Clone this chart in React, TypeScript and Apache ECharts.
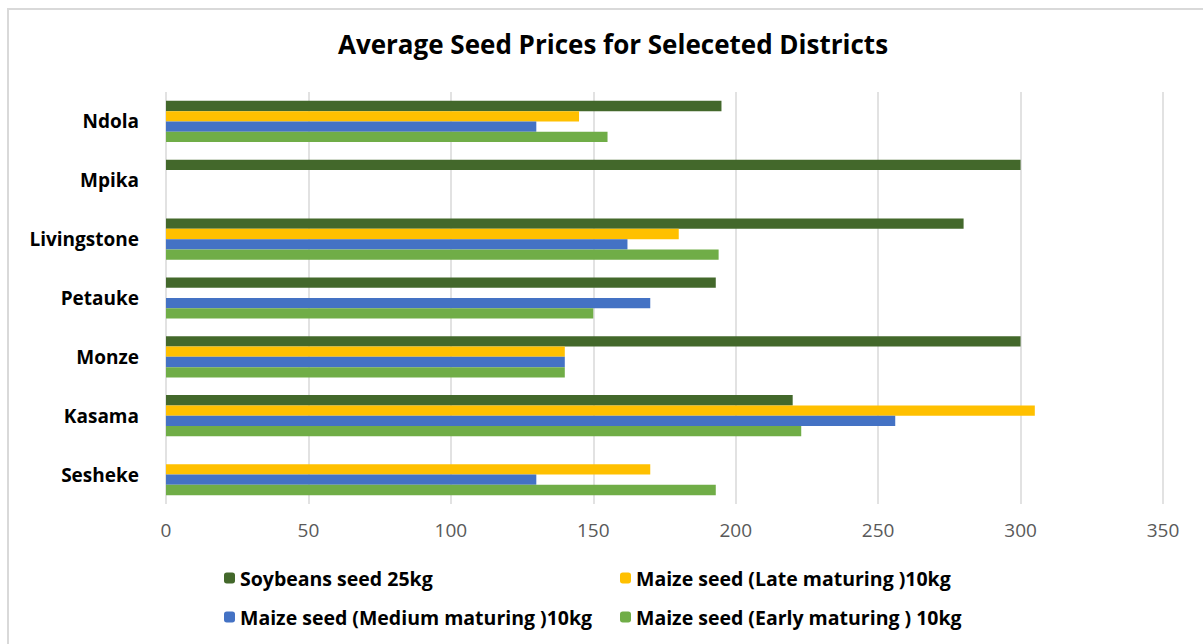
import React, { useEffect, useRef } from "react";
import * as echarts from "echarts";

const districts = ["Ndola", "Mpika", "Livingstone", "Petauke", "Monze", "Kasama", "Sesheke"];
const seriesNames = [
  "Soybeans seed 25kg",
  "Maize seed (Late maturing )10kg",
  "Maize seed (Medium maturing )10kg",
  "Maize seed (Early maturing ) 10kg",
];
const soybeans = [195, 300, 280, 193, 300, 220, null];
const maizeLate = [145, null, 180, null, 140, 305, 170];
const maizeMedium = [130, null, 162, 170, 140, 256, 130];
const maizeEarly = [155, null, 194, 150, 140, 223, 193];
const colors = ["#43682B", "#FFC000", "#4472C4", "#70AD47"];
const xTicks = { min: 0, max: 350, interval: 50 };

const FONT = "'Open Sans', 'Liberation Sans', sans-serif";

export default function App() {
  const ref = useRef<HTMLDivElement>(null);
  useEffect(() => {
    if (!ref.current) return;
    const chart = echarts.init(ref.current, undefined, { renderer: "svg" });
    const values = [soybeans, maizeLate, maizeMedium, maizeEarly];
    const legendText = { fontSize: 19.5, fontWeight: "bold", color: "#000", fontFamily: FONT };
    chart.setOption({
      animation: false,
      textStyle: { fontFamily: FONT },
      title: {
        text: "Average Seed Prices for Seleceted Districts",
        left: 608,
        textAlign: "center",
        top: 26,
        textStyle: { fontSize: 26, fontWeight: "bold", color: "#000", fontFamily: FONT },
      },
      graphic: [
        {
          type: "rect",
          shape: { x: 8, y: 9, width: 1210, height: 650 },
          style: { fill: "none", stroke: "#d9d9d9", lineWidth: 2 },
          silent: true,
        },
      ],
      legend: [
        {
          orient: "vertical",
          left: 219,
          top: 563,
          itemWidth: 11,
          itemHeight: 11,
          itemGap: 19,
          data: [seriesNames[0], seriesNames[2]],
          textStyle: legendText,
        },
        {
          orient: "vertical",
          left: 615,
          top: 563,
          itemWidth: 11,
          itemHeight: 11,
          itemGap: 19,
          data: [seriesNames[1], seriesNames[3]],
          textStyle: legendText,
        },
      ],
      grid: { left: 166, right: 40, top: 92, bottom: 140, containLabel: false },
      xAxis: {
        type: "value",
        min: xTicks.min,
        max: xTicks.max,
        interval: xTicks.interval,
        axisLine: { show: false },
        axisTick: { show: false },
        axisLabel: { fontSize: 19, color: "#595959", margin: 16, fontFamily: FONT },
        splitLine: { lineStyle: { color: "#d9d9d9", width: 1.5 } },
      },
      yAxis: {
        type: "category",
        inverse: true,
        data: districts,
        axisLine: { show: false },
        axisTick: { show: false },
        axisLabel: { fontSize: 19, fontWeight: "bold", color: "#000", margin: 27, fontFamily: FONT },
      },
      series: seriesNames.map((name, i) => ({
        name,
        type: "bar",
        data: values[i],
        barGap: "0%",
        barCategoryGap: "30%",
        itemStyle: { color: colors[i] },
      })),
    });
    return () => chart.dispose();
  }, []);
  return <div ref={ref} style={{ position: "absolute", left: 0, top: 0, width: 1203, height: 644 }} />;
}
